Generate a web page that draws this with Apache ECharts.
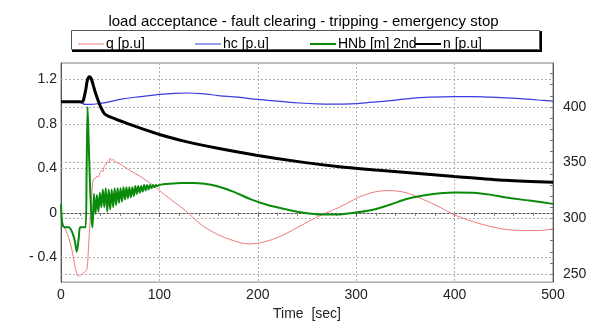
<!DOCTYPE html>
<html>
<head>
<meta charset="utf-8">
<script src="https://cdn.jsdelivr.net/npm/echarts@6/dist/echarts.min.js"></script>
<style>
html,body{margin:0;padding:0;background:#fff;}
#chart{width:607px;height:326px;}
</style>
</head>
<body>
<div id="chart"></div>
<script>
// ---- data ----
const titleText = 'load acceptance - fault clearing - tripping - emergency stop';
const seriesNames = ['q [p.u]', 'hc [p.u]', 'HNb [m] 2nd', 'n [p.u]'];
const xTicks = [0, 100, 200, 300, 400, 500];
const leftTicks = [-0.4, 0, 0.4, 0.8, 1.2];
const rightTicks = [250, 300, 350, 400];
const rightMinorTicks = [250, 260, 270, 280, 290, 300, 310, 320, 330, 340, 350, 360, 370, 380, 390, 400, 410, 420, 430];

// q [p.u] (left axis)
const qTime = [0, 2, 5, 8, 11, 13.5, 16, 17.5, 20, 24, 26.5, 28, 30, 32, 33, 35, 36.5, 38, 39.5, 41, 42.5, 44, 45.5, 47, 48.5, 50, 51.5, 53, 55, 57, 60, 65, 70, 80, 94, 100, 110, 124, 143, 158, 175, 190, 200, 215, 226, 245, 260, 275, 283, 294, 304, 320, 334, 351, 368, 385, 400, 419, 435, 452, 470, 485, 500];
const qVals = [-0.03, -0.1, -0.16, -0.23, -0.33, -0.45, -0.55, -0.57, -0.56, -0.535, -0.5, -0.3, 0.0, 0.25, 0.3, 0.31, 0.33, 0.32, 0.36, 0.38, 0.37, 0.42, 0.43, 0.46, 0.45, 0.49, 0.47, 0.48, 0.46, 0.45, 0.44, 0.41, 0.38, 0.33, 0.245, 0.2, 0.13, 0.037, -0.11, -0.19, -0.25, -0.28, -0.275, -0.24, -0.2, -0.11, -0.04, 0.02, 0.05, 0.1, 0.145, 0.19, 0.2, 0.18, 0.12, 0.05, -0.02, -0.08, -0.12, -0.15, -0.16, -0.16, -0.145];

// hc [p.u] (left axis)
const hcTime = [0, 15, 20, 25, 30, 40, 50, 60, 75, 90, 100, 115, 128, 145, 160, 180, 200, 220, 243, 260, 277, 294, 317, 335, 351, 375, 400, 420, 436, 452, 470, 485, 500];
const hcVals = [1.0, 1.0, 0.99, 0.975, 0.975, 0.985, 1.0, 1.02, 1.04, 1.054, 1.065, 1.075, 1.078, 1.07, 1.055, 1.04, 1.02, 1.005, 0.988, 0.98, 0.978, 0.98, 0.996, 1.01, 1.025, 1.04, 1.046, 1.046, 1.04, 1.035, 1.025, 1.015, 1.005];

// HNb [m] 2nd (right axis)
const hnbTime = [0, 1.5, 4, 8, 10, 12, 14, 16, 18, 19.3, 22, 25, 26, 27, 28, 29.5, 31, 32, 33.5, 35, 36.5, 38, 39.5, 41, 42.5, 44, 45.5, 47, 48.5, 50, 51.5, 53, 54.5, 56, 57.5, 59, 60.5, 62, 63.5, 65, 66.5, 68, 69.5, 71, 72.5, 74, 75.5, 77, 78.5, 80, 81.5, 83, 84.5, 86, 87.5, 89, 90.5, 92, 93.5, 95, 96.5, 98, 100, 110, 122, 134, 146, 158, 175, 193, 210, 226, 243, 260, 280, 294, 317, 335, 351, 368, 385, 402, 419, 436, 452, 476, 500];
const hnbVals = [313, 294, 292, 292, 290, 286, 280, 270, 282, 292, 292, 292, 340, 400, 372, 330, 300, 292, 322, 304, 321, 306, 323, 310, 326, 310, 327, 306, 326, 308, 326, 310, 327, 312, 327, 314, 327, 315, 328, 317, 328, 318, 328, 319, 328, 320, 329, 322, 329, 323, 329, 324, 330, 325, 330, 326, 330, 327, 330, 328, 330, 329, 330, 331, 331.7, 331.7, 331, 329, 324, 317, 312, 308.6, 305.5, 303.7, 303.4, 304.5, 307.7, 312.5, 317.3, 320.5, 322.5, 323.2, 323, 321.3, 318.7, 316, 313];

// n [p.u] (left axis)
const nTime = [0, 22, 23, 25, 27, 29, 31, 35, 40, 45, 55, 70, 85, 100, 124, 158, 200, 243, 283, 320, 351, 400, 452, 500];
const nVals = [1.0, 1.0, 1.02, 1.1, 1.2, 1.225, 1.2, 1.08, 0.96, 0.885, 0.845, 0.795, 0.748, 0.705, 0.647, 0.583, 0.516, 0.458, 0.414, 0.385, 0.362, 0.327, 0.292, 0.275];

// ---- build ----
const zip = (t, v) => t.map((x, i) => [x, v[i]]);
const FONT = "'Liberation Sans', Arial, sans-serif";
const colors = ['#f07a7a', '#3a3ae0', '#0a8a0a', '#000000'];
const widths = [1, 1.2, 2, 3];
const gridStyle = {color: '#b0b0b0', type: [2, 2], width: 1};

const chart = echarts.init(document.getElementById('chart'), null, {renderer: 'canvas'});

const legendLefts = [73, 190, 305, 410];
const legends = seriesNames.map((name, i) => ({
  data: [name],
  left: legendLefts[i],
  top: 32,
  icon: 'rect',
  itemWidth: 26,
  itemHeight: i < 2 ? 1 : 2,
  itemGap: 0,
  selectedMode: false,
  textStyle: {fontFamily: FONT, fontSize: 14, color: '#000', padding: [0, 0, 0, -3]}
}));

const option = {
  animation: false,
  backgroundColor: '#fff',
  title: {
    text: titleText,
    left: 'center',
    top: 9,
    textStyle: {fontFamily: FONT, fontSize: 15, fontWeight: 'normal', color: '#000'}
  },
  legend: legends,
  graphic: [
    {type: 'rect', shape: {x: 71.5, y: 30.5, width: 468, height: 19}, style: {fill: 'none', stroke: '#555', lineWidth: 1}, silent: true},
    {type: 'polyline', shape: {points: [[541, 31], [541, 51], [72, 51]]}, style: {fill: 'none', stroke: '#000', lineWidth: 2}, silent: true}
  ],
  grid: {left: 61, right: 54, top: 63, bottom: 37, show: true, borderColor: '#808080', borderWidth: 1, containLabel: false},
  xAxis: {
    type: 'value',
    min: 0, max: 500, interval: 100,
    name: 'Time  [sec]',
    nameLocation: 'middle',
    nameGap: 23,
    nameTextStyle: {fontFamily: FONT, fontSize: 14, color: '#222'},
    axisLine: {lineStyle: {color: '#555'}},
    axisTick: {show: true, length: 4, lineStyle: {color: '#555'}},
    minorTick: {show: true, splitNumber: 5, length: 3, lineStyle: {color: '#777'}},
    axisLabel: {fontFamily: FONT, fontSize: 14, color: '#222', margin: 6, showMaxLabel: true, showMinLabel: true},
    splitLine: {show: true, lineStyle: gridStyle}
  },
  yAxis: [
    {
      type: 'value',
      position: 'left',
      min: -0.624, max: 1.348,
      axisLine: {show: true, lineStyle: {color: '#555'}},
      axisTick: {show: false, customValues: leftTicks},
      axisLabel: {
        customValues: leftTicks,
        fontFamily: FONT, fontSize: 14, color: '#222', margin: 4,
        formatter: v => {
          const r = Math.round(v * 10) / 10;
          if (r === 0) return '0';
          if (r < 0) return '- ' + Math.abs(r).toFixed(1);
          return r.toFixed(1);
        }
      },
      splitLine: {show: false}
    },
    {
      type: 'value',
      position: 'right',
      min: 242.8, max: 439.4,
      axisLine: {show: true, lineStyle: {color: '#555'}},
      axisTick: {show: true, inside: true, length: 3, customValues: rightMinorTicks, lineStyle: {color: '#777'}},
      axisLabel: {customValues: rightTicks, fontFamily: FONT, fontSize: 14, color: '#222', margin: 10},
      splitLine: {show: false}
    }
  ],
  series: [
    {
      name: seriesNames[0], type: 'line', yAxisIndex: 0, showSymbol: false, symbol: 'none', smooth: 0.3,
      lineStyle: {color: colors[0], width: widths[0]}, itemStyle: {color: colors[0]},
      data: zip(qTime, qVals),
      markLine: {
        silent: true, symbol: ['none', 'none'], z: 1, label: {show: false},
        lineStyle: gridStyle, emphasis: {disabled: true},
        data: leftTicks.map(v => ({yAxis: v}))
      }
    },
    {
      name: seriesNames[1], type: 'line', yAxisIndex: 0, showSymbol: false, symbol: 'none', smooth: 0.4,
      lineStyle: {color: colors[1], width: widths[1]}, itemStyle: {color: colors[1]},
      data: zip(hcTime, hcVals)
    },
    {
      name: seriesNames[2], type: 'line', yAxisIndex: 1, showSymbol: false, symbol: 'none', smooth: 0.25,
      lineStyle: {color: colors[2], width: widths[2]}, itemStyle: {color: colors[2]},
      data: zip(hnbTime, hnbVals),
      markLine: {
        silent: true, symbol: ['none', 'none'], z: 1, label: {show: false},
        lineStyle: gridStyle, emphasis: {disabled: true},
        data: rightTicks.map(v => ({yAxis: v}))
      }
    },
    {
      name: seriesNames[3], type: 'line', yAxisIndex: 0, showSymbol: false, symbol: 'none', smooth: 0.3,
      lineStyle: {color: colors[3], width: widths[3]}, itemStyle: {color: colors[3]},
      data: zip(nTime, nVals)
    }
  ]
};
chart.setOption(option);
</script>
</body>
</html>
